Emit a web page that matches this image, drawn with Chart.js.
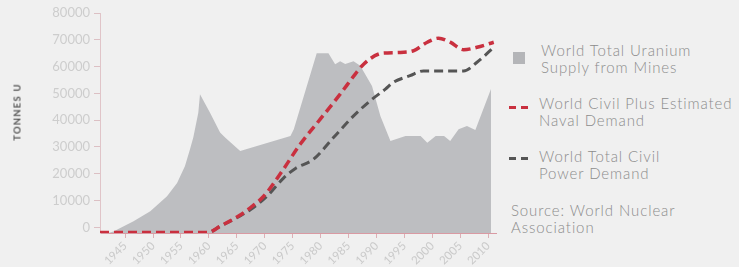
<!DOCTYPE html>
<html>
<head>
<meta charset="utf-8">
<script src="https://cdn.jsdelivr.net/npm/chart.js@4/dist/chart.umd.min.js"></script>
<style>
  body { margin:0; background:#f0f0f0; width:739px; height:267px; overflow:hidden; font-family:'Lato', sans-serif; }
  #wrap { position:absolute; left:0; top:0; width:500px; height:267px; }
  #ytitle { position:absolute; left:17px; top:112px; transform:translate(-50%,-50%) rotate(-90deg); font-size:9.5px; font-weight:bold; color:#555; letter-spacing:1.2px; white-space:nowrap; }
  .leg { position:absolute; color:#8c8c8c; font-size:15px; font-weight:300; line-height:17px; letter-spacing:0.9px; white-space:nowrap; }
  .sq { position:absolute; width:12px; height:12px; background:#b4b5b8; }
  .dash { position:absolute; height:3px; width:7px; }
</style>
</head>
<body>
<div id="wrap"><canvas id="mycanvas"></canvas></div>
<div id="ytitle">TONNES U</div>

<div class="sq" style="left:513px;top:52px"></div>
<div class="leg" style="left:541px;top:42px">World Total Uranium<br>Supply from Mines</div>

<div class="dash" style="left:509px;top:106px;background:#c9303f"></div>
<div class="dash" style="left:521px;top:106px;background:#c9303f"></div>
<div class="leg" style="left:539px;top:95px">World Civil Plus Estimated<br>Naval Demand</div>

<div class="dash" style="left:509px;top:157px;background:#555"></div>
<div class="dash" style="left:521px;top:157px;background:#555"></div>
<div class="leg" style="left:539px;top:148px">World Total Civil<br>Power Demand</div>

<div class="leg" style="left:511px;top:202px">Source: World Nuclear<br>Association</div>

<script>
// supply from mines (area)
var supplyYears = [1942, 1942.9, 1946.5, 1949.5, 1952.5, 1954.3, 1955.7, 1956.6, 1957.2, 1958.1, 1958.4, 1960.2, 1962, 1962.9, 1965.6, 1974.6, 1975.2, 1979.3, 1981.4, 1982.6, 1983.5, 1984.4, 1985.9, 1987.1, 1989.2, 1990.7, 1992.5, 1995.2, 1997.9, 1999.1, 2000.6, 2002.1, 2003.2, 2004.7, 2006.2, 2007.7, 2010.5];
var supplyTonnes = [-2100, -1500, 2250, 6000, 11600, 16600, 22800, 29100, 33500, 42800, 49700, 42800, 35400, 33500, 28500, 34100, 36600, 65000, 65000, 60900, 62000, 61000, 62000, 60300, 52800, 41600, 32200, 34100, 34100, 31600, 34100, 34100, 32200, 36600, 37800, 36300, 51600];

// civil plus naval demand (red dashed)
var navalYears = [1940.5, 1950, 1959.8, 1962, 1965.6, 1967.4, 1969.8, 1973.3, 1976.3, 1979.9, 1983.5, 1986.2, 1987.7, 1990.4, 1992, 1994.3, 1996.7, 1999.1, 2001.1, 2003.2, 2005.6, 2008, 2011];
var navalTonnes = [-1900, -1900, -1900, 400, 4600, 7300, 11600, 21600, 30900, 40300, 49700, 57200, 60900, 64700, 65100, 65300, 66000, 69100, 70600, 69100, 66300, 67200, 69100];

// total civil demand (grey dashed)
var civilYears = [1940.5, 1950, 1959.8, 1962, 1965.6, 1967.4, 1970.4, 1973.4, 1975.5, 1978.7, 1982.3, 1985.9, 1989.2, 1991.6, 1993, 1996, 1998.4, 2005.6, 2008, 2011];
var civilTonnes = [-1900, -1900, -1900, 400, 4300, 6600, 11600, 18500, 22000, 25400, 33500, 41600, 47800, 51600, 54100, 56600, 58400, 58400, 61600, 67200];

var yTicks = [0, 10000, 20000, 30000, 40000, 50000, 60000, 70000, 80000];
var xTicks = [1945, 1950, 1955, 1960, 1965, 1970, 1975, 1980, 1985, 1990, 1995, 2000, 2005, 2010];

function pts(xs, ys){
	var out = [];
	for (var i in xs){ out.push({x: xs[i], y: ys[i]}); }
	return out;
}

var ctx = document.getElementById("mycanvas");
var chart = new Chart(ctx, {
	type: 'line',
	data: {
		datasets: [{
			label: "World Civil Plus Estimated Naval Demand",
			data: pts(navalYears, navalTonnes),
			borderColor: '#c9303f',
			borderWidth: 3.5,
			borderDash: [9, 5],
			cubicInterpolationMode: 'monotone',
			pointRadius: 0,
			fill: false,
			order: 1
		}, {
			label: "World Total Civil Power Demand",
			data: pts(civilYears, civilTonnes),
			borderColor: '#555555',
			borderWidth: 3,
			borderDash: [9, 5],
			cubicInterpolationMode: 'monotone',
			pointRadius: 0,
			fill: false,
			order: 2
		}, {
			label: "World Total Uranium Supply from Mines",
			data: pts(supplyYears, supplyTonnes),
			borderWidth: 0,
			borderColor: 'rgba(0,0,0,0)',
			backgroundColor: '#bdbec1',
			tension: 0,
			pointRadius: 0,
			fill: 'start',
			order: 3
		}]
	},
	options: {
		responsive: true,
		maintainAspectRatio: false,
		animation: false,
		layout: { padding: { top: 13, right: 4, left: 0, bottom: 0 } },
		plugins: { legend: { display: false }, tooltip: { enabled: false } },
		scales: {
			x: {
				type: 'linear',
				min: 1940.5,
				max: 2011.4,
				afterBuildTicks: function(scale){
					scale.ticks = xTicks.map(function(v){ return {value: v}; });
				},
				afterFit: function(scale){ scale.height = 34; },
				ticks: {
					autoSkip: false,
					minRotation: 45,
					maxRotation: 45,
					padding: 1,
					color: '#cacaca',
					font: { family: 'Lato', size: 11.5 },
					callback: function(v){ return String(v); }
				},
				grid: { drawOnChartArea: false, tickLength: 5, color: '#dcb0b6' },
				border: { color: '#d99aa3', width: 1 }
			},
			y: {
				min: -2100,
				max: 80000,
				afterBuildTicks: function(scale){
					scale.ticks = yTicks.map(function(v){ return {value: v}; });
				},
				afterFit: function(scale){ scale.width = 100; },
				ticks: {
					padding: 4,
					color: '#cdcdcd',
					font: { family: 'Lato', size: 13 },
					callback: function(v){ return String(v); }
				},
				grid: { drawOnChartArea: false, tickLength: 6, color: '#dcc0c4' },
				border: { color: '#e0c4c8', width: 1 }
			}
		}
	}
});
</script>
</body>
</html>
